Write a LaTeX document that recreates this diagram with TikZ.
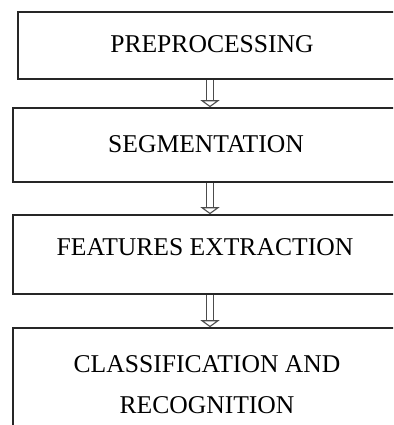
\documentclass[tikz,border=0pt]{standalone}
\usepackage{fontspec}
\setmainfont{Liberation Serif}
\usetikzlibrary{arrows.meta}
\tikzset{
  box/.style={draw=black!85, line width=1.6pt, inner sep=0pt, align=center,
    font=\fontsize{25.6}{41}\selectfont},
  flow/.style={draw=black!70, line width=1.1pt, double, double distance=5.5pt,
    -{Triangle[open, width=19pt, length=7pt, line width=1.1pt]}}
}
\begin{document}
\begin{tikzpicture}[x=1pt,y=-1pt]
\useasboundingbox (0,0) rectangle (393,425);
\clip (0,0) rectangle (393,425);
\node[box, minimum width=388, minimum height=67, text height=41, text depth=26] (pre) at (212,45.5) {PREPROCESSING};
\node[box, minimum width=386, minimum height=74, text height=44, text depth=30] (seg) at (206,145) {SEGMENTATION};
\node[box, minimum width=384, minimum height=79, text height=40, text depth=39] (fea) at (205,254.5) {FEATURES EXTRACTION};
\node[box, minimum width=388, minimum height=142, text height=85, text depth=57] (cla) at (207,399) {CLASSIFICATION AND\\ RECOGNITION};
\coordinate (ax) at (210,0);
\foreach \a/\b in {pre/seg, seg/fea, fea/cla}
{
	\draw[flow] (\a.south -| ax) -- (\b.north -| ax);
}
\end{tikzpicture}
\end{document}
